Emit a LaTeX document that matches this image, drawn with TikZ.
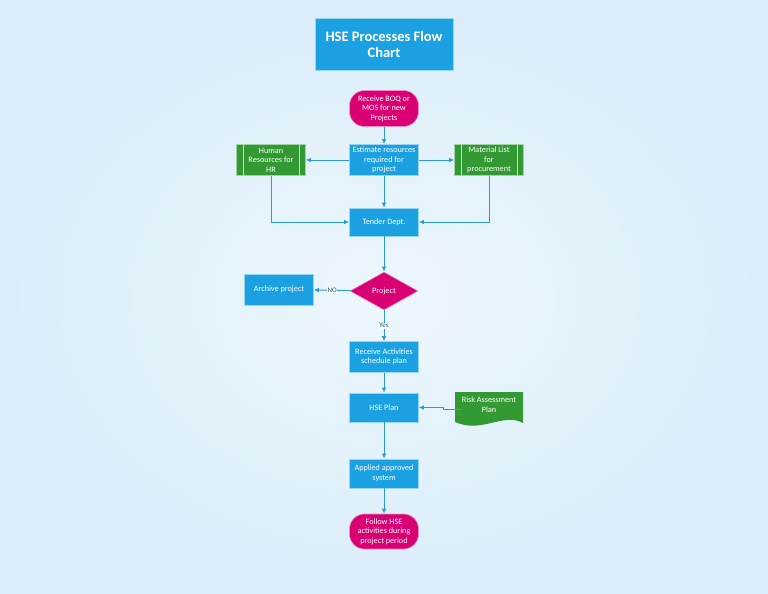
\documentclass[tikz,border=0pt]{standalone}
\usepackage{fontspec}
\setmainfont{Carlito}
\usetikzlibrary{shapes.geometric,arrows.meta}
\definecolor{procblue}{RGB}{27,161,226}
\definecolor{termpink}{RGB}{216,0,115}
\definecolor{datagreen}{RGB}{51,153,51}
\definecolor{linkblue}{RGB}{42,154,215}

\begin{document}
\begin{tikzpicture}[x=1pt,y=-1pt,
  box/.style={draw=white!55!procblue, line width=0.6pt, fill=procblue, text=white,
    minimum width=69pt, minimum height=31pt, inner sep=0pt, align=center,
    font=\fontsize{8.2}{9.5}\selectfont},
  pill/.style={box, fill=termpink, draw=white!55!termpink, rounded corners=15pt, minimum height=36pt},
  store/.style={box, fill=datagreen, draw=white!55!datagreen},
  link/.style={draw=linkblue, line width=0.9pt, -{Latex[length=5pt,width=4.5pt]}},
  tag/.style={fill=white, inner sep=0.6pt, text=linkblue!55!black, font=\fontsize{7}{8}\selectfont}]
\useasboundingbox (0,0) rectangle (768,594);
\shade[inner color={rgb,255:red,237;green,247;blue,252}, outer color={rgb,255:red,218;green,237;blue,249}] (0,0) rectangle (768,594);

% title
\node[box, minimum width=138pt, minimum height=52pt,
  font=\fontsize{14.5}{16}\bfseries] (title) at (384,44) {HSE Processes Flow\\Chart};

% main column
\node[pill] (boq) at (384,108.5) {Receive BOQ or\\MOS for new\\Projects};
\node[box] (est) at (384,160) {Estimate resources\\required for\\project};
\node[store] (hr) at (271,160) {Human\\Resources for\\HR};
\node[store] (mat) at (489,160) {Material List\\for\\procurement};
\node[box, minimum height=28pt] (tender) at (384,222) {Tender Dept.};
\node[diamond, fill=termpink, draw=white!55!termpink, line width=0.6pt, text=white,
  minimum width=68pt, minimum height=38pt, inner sep=0pt, aspect=1.8,
  font=\fontsize{8.2}{9.5}\selectfont] (proj) at (384,291) {Project};
\node[box] (arch) at (279,289.5) {Archive project};
\node[box] (act) at (384,357) {Receive Activities\\schedule plan};
\node[box, minimum height=29pt] (hse) at (384,407.5) {HSE Plan};
\node[box, minimum height=29pt] (appl) at (384,473.5) {Applied approved\\system};
\node[pill, minimum height=35pt] (follow) at (384,531.5) {Follow HSE\\activities during\\project period};

% side lines of the green boxes
\foreach \n in {hr,mat}{
\draw[white!70!datagreen, line width=0.6pt] ([xshift=7pt]\n.north west) -- ([xshift=7pt]\n.south west);
\draw[white!70!datagreen, line width=0.6pt] ([xshift=-7pt]\n.north east) -- ([xshift=-7pt]\n.south east);
}

% risk document
\fill[datagreen] (455,392) -- (523,392) -- (523,423) .. controls (503,412) and (482,434) .. (455,422) -- cycle;
\node[text=white, align=center, font=\fontsize{8.2}{9.5}\selectfont,
  minimum height=24pt, inner sep=0pt] (risk) at (489,404.5) {Risk Assessment\\Plan};

% connectors
\draw[link] (boq) -- (est);
\draw[link] (est) -- (hr);
\draw[link] (est) -- (mat);
\draw[link] (est) -- (tender);
\draw[link] (hr.south) |- (tender.west);
\draw[link] (mat.south) |- (tender.east);
\draw[link] (tender) -- (proj);
\draw[link] (proj) -- node[tag] {NO} (arch);
\draw[link] (proj) -- node[tag] {Yes} (act);
\draw[link] (act) -- (hse);
\draw[link] ([yshift=-5pt]risk.west) -- ++(-18,0) |- (hse.east);
\draw[link] (hse) -- (appl);
\draw[link] (appl) -- (follow);
\end{tikzpicture}
\end{document}
